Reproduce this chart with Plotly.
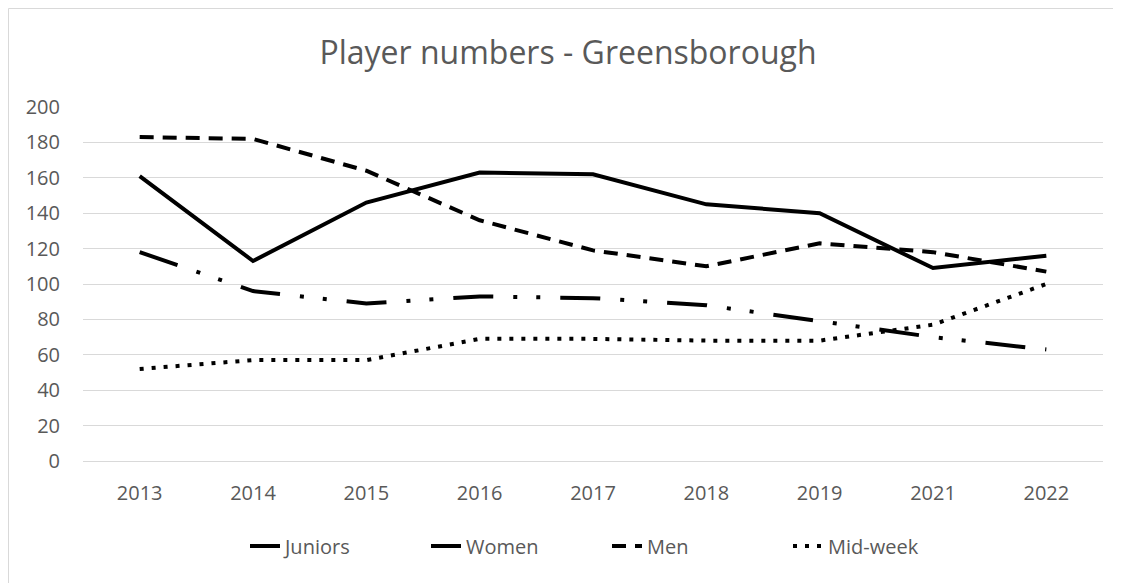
import plotly.graph_objects as go

years = ["2013", "2014", "2015", "2016", "2017", "2018", "2019", "2021", "2022"]
juniors = [161, 113, 146, 163, 162, 145, 140, 109, 116]
women = [118, 96, 89, 93, 92, 88, 79, 70, 63]
men = [183, 182, 164, 136, 119, 110, 123, 118, 107]
midweek = [52, 57, 57, 69, 69, 68, 68, 77, 100]

W, H = 1121, 583
OFF = 8  # the html page body adds an 8px margin
L, T = 83 - OFF, 107 - OFF
pw, ph = 1020, 354
R, B = W - L - pw, H - T - ph

grey = "#595959"
font = "Open Sans"

fig = go.Figure()
series = [
    ("Juniors", juniors, "solid"),
    ("Women", women, "40px,20px,4px,19px,4px,20px"),
    ("Men", men, "14px,9px"),
    ("Mid-week", midweek, "4px,8px"),
]
for name, vals, dash in series:
    fig.add_trace(go.Scatter(x=years, y=vals, mode="lines", name=name,
                             line=dict(color="black", width=4, dash=dash)))


# page pixel -> paper coords
def px_x(p):
    return (p - OFF - L) / pw


def px_y(p):
    return (T + ph - (p - OFF)) / ph


# chart area border: only the top and left edges show in the picture
border = dict(color="#d9d9d9", width=1)
fig.add_shape(type="line", xref="paper", yref="paper", layer="below",
              x0=px_x(8.5), x1=px_x(1200), y0=px_y(8.5), y1=px_y(8.5), line=border)
fig.add_shape(type="line", xref="paper", yref="paper", layer="below",
              x0=px_x(8.5), x1=px_x(8.5), y0=px_y(8.5), y1=px_y(700), line=border)

fig.update_layout(
    width=W, height=H,
    margin=dict(l=L, r=R, t=T, b=B, autoexpand=False),
    paper_bgcolor="white", plot_bgcolor="white",
    font=dict(family=font, size=20, color=grey),
    title=dict(text="Player numbers - Greensborough", x=px_x(568), xanchor="center",
               xref="paper", y=1 - (53 - OFF) / H, yanchor="middle",
               font=dict(family=font, size=32, color=grey)),
    showlegend=True,
    legend=dict(orientation="h", x=px_x(245), xanchor="left",
                y=px_y(546), yanchor="middle", entrywidth=136,
                font=dict(family=font, size=20, color=grey),
                bgcolor="rgba(0,0,0,0)"),
)
fig.update_xaxes(type="category", range=[-0.5, len(years) - 0.5],
                 showgrid=False, showline=True, automargin=False,
                 linecolor="#d9d9d9", linewidth=1, ticks="",
                 tickfont=dict(size=20, color=grey), ticklabelstandoff=14)
fig.update_yaxes(range=[0, 200], dtick=20, showgrid=True, gridcolor="#d9d9d9",
                 gridwidth=1, zeroline=False, showline=False, ticks="",
                 automargin=False,
                 tickfont=dict(size=20, color=grey), ticklabelstandoff=22)

fig.write_html("out.html")
